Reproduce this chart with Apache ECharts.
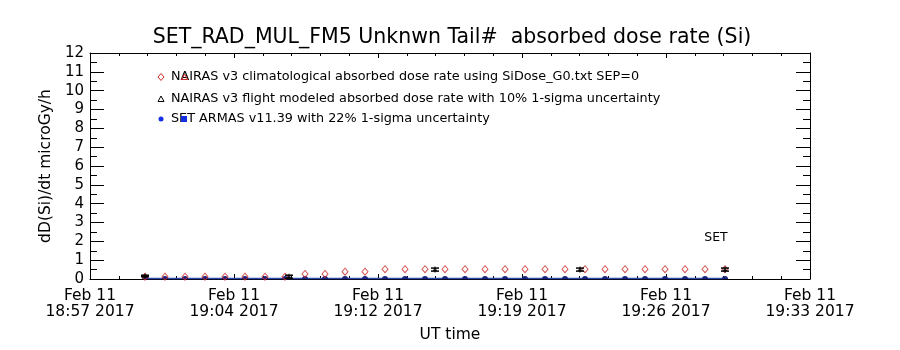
<!DOCTYPE html>
<html>
<head>
<meta charset="utf-8">
<script src="https://cdn.jsdelivr.net/npm/echarts@6/dist/echarts.min.js"></script>
<style>
  html, body { margin: 0; padding: 0; background: #ffffff; }
  #chart { width: 900px; height: 350px; }
</style>
</head>
<body>
<div id="chart"></div>
<script>
// ---- data -------------------------------------------------------------
// x axis runs from 18:57:15 UT for 36 minutes, major ticks every 7.2 min
const axisStart = '18:57:15';
const axisSpanMin = 36;
const xTickStep = 7.2;
const xTickLabels = [
  'Feb 11\n18:57 2017', 'Feb 11\n19:04 2017', 'Feb 11\n19:12 2017',
  'Feb 11\n19:19 2017', 'Feb 11\n19:26 2017', 'Feb 11\n19:33 2017'
];
const yTickLabels = ['0', '1', '2', '3', '4', '5', '6', '7', '8', '9', '10', '11', '12'];

// one-minute samples
const sampleTimes = [
  '19:00', '19:01', '19:02', '19:03', '19:04', '19:05', '19:06', '19:07', '19:08', '19:09',
  '19:10', '19:11', '19:12', '19:13', '19:14', '19:15', '19:16', '19:17', '19:18', '19:19',
  '19:20', '19:21', '19:22', '19:23', '19:24', '19:25', '19:26', '19:27', '19:28', '19:29'
];
// NAIRAS v3 climatological dose rate (microGy/h)
const climDose = [
  0.12, 0.12, 0.12, 0.12, 0.12, 0.12, 0.12, 0.12, 0.27, 0.27,
  0.39, 0.39, 0.52, 0.52, 0.52, 0.52, 0.52, 0.52, 0.52, 0.52,
  0.52, 0.52, 0.52, 0.52, 0.52, 0.52, 0.52, 0.52, 0.52, 0.52
];
// SET ARMAS v11.39 measured dose rate (microGy/h)
const armasDose = [
  0.03, 0.03, 0.03, 0.03, 0.03, 0.03, 0.03, 0.03, 0.03, 0.03,
  0.03, 0.03, 0.03, 0.03, 0.03, 0.03, 0.03, 0.03, 0.03, 0.03,
  0.03, 0.03, 0.03, 0.03, 0.03, 0.03, 0.03, 0.03, 0.03, 0.03
];
// NAIRAS v3 flight modeled dose rate with uncertainty
const flightTimes = ['19:00:00', '19:07:12', '19:14:30', '19:21:45', '19:29:00'];
const flightDose = [0.16, 0.12, 0.50, 0.50, 0.50];
const flightErr = [0.04, 0.08, 0.08, 0.08, 0.08];

const legendTexts = [
  'NAIRAS v3 climatological absorbed dose rate using SiDose_G0.txt SEP=0',
  'NAIRAS v3 flight modeled absorbed dose rate with 10% 1-sigma uncertainty',
  'SET ARMAS v11.39 with 22% 1-sigma uncertainty'
];

// ---- helpers ------------------------------------------------------------
function toSec(t) {
  const p = t.split(':').map(Number);
  return p[0] * 3600 + p[1] * 60 + (p[2] || 0);
}
// minutes elapsed since the start of the time axis
function minutesFromStart(t) {
  return (toSec(t) - toSec(axisStart)) / 60;
}

const FONT = '"DejaVu Sans", sans-serif';
const climData = sampleTimes.map((t, i) => [minutesFromStart(t), climDose[i]]);
const armasData = sampleTimes.map((t, i) => [minutesFromStart(t), armasDose[i]]);
const flightData = flightTimes.map((t, i) => [minutesFromStart(t), flightDose[i], flightErr[i]]);

const chart = echarts.init(document.getElementById('chart'), null, { renderer: 'canvas' });

const tickCommon = {
  axisLine: { show: true, onZero: false, lineStyle: { color: '#000', width: 1 } },
  splitLine: { show: false }
};

function xAxisDef(pos, showLabels) {
  return Object.assign({
    type: 'value',
    position: pos,
    min: 0,
    max: axisSpanMin,
    interval: xTickStep,
    axisTick: { show: true, inside: true, length: 5, lineStyle: { color: '#000' } },
    minorTick: { show: true, splitNumber: 5, length: 3, lineStyle: { color: '#000' } },
    axisLabel: showLabels ? {
      show: true,
      margin: 9,
      color: '#000',
      fontFamily: FONT,
      fontSize: 15.5,
      lineHeight: 16,
      formatter: v => xTickLabels[Math.round(v / xTickStep)] || ''
    } : { show: false }
  }, tickCommon);
}

function yAxisDef(pos, showLabels) {
  return Object.assign({
    type: 'value',
    position: pos,
    min: 0,
    max: 12,
    interval: 1,
    axisTick: { show: true, inside: true, length: 14, lineStyle: { color: '#000' } },
    minorTick: { show: true, splitNumber: 2, length: 7, lineStyle: { color: '#000' } },
    axisLabel: showLabels ? {
      show: true,
      margin: 6,
      color: '#000',
      fontFamily: FONT,
      fontSize: 15,
      formatter: v => yTickLabels[Math.round(v)] || ''
    } : { show: false }
  }, tickCommon);
}

const xAxisBottom = xAxisDef('bottom', true);
xAxisBottom.name = 'UT time';
xAxisBottom.nameLocation = 'middle';
xAxisBottom.nameGap = 48;
xAxisBottom.nameTextStyle = { color: '#000', fontFamily: FONT, fontSize: 15.5 };

const yAxisLeft = yAxisDef('left', true);
yAxisLeft.name = 'dD(Si)/dt microGy/h';
yAxisLeft.nameLocation = 'middle';
yAxisLeft.nameGap = 34;
yAxisLeft.nameRotate = 90;
yAxisLeft.nameTextStyle = { color: '#000', fontFamily: FONT, fontSize: 15.5 };

// legend drawn as plain graphics
const LX = 161, LT = 171, rows = [77, 99, 119];
const LFONT = '12.8px ' + FONT;
const legendGraphics = [
  { type: 'polygon', shape: { points: [[LX, rows[0] - 3.5], [LX + 3, rows[0]], [LX, rows[0] + 3.5], [LX - 3, rows[0]]] },
    style: { fill: 'none', stroke: '#cc2a2a', lineWidth: 1 } },
  { type: 'text', x: LT, y: rows[0], style: { text: legendTexts[0], font: LFONT, fill: '#000', align: 'left', verticalAlign: 'middle' } },
  { type: 'polygon', shape: { points: [[LT + 13.5, rows[0] - 3], [LT + 16.5, rows[0] + 2.5], [LT + 10.5, rows[0] + 2.5]] },
    style: { fill: 'none', stroke: '#cc2a2a', lineWidth: 1 } },
  { type: 'polygon', shape: { points: [[LX, rows[1] - 3], [LX + 3, rows[1] + 2.5], [LX - 3, rows[1] + 2.5]] },
    style: { fill: 'none', stroke: '#000', lineWidth: 1 } },
  { type: 'text', x: LT, y: rows[1], style: { text: legendTexts[1], font: LFONT, fill: '#000', align: 'left', verticalAlign: 'middle' } },
  { type: 'circle', shape: { cx: LX, cy: rows[2], r: 2.5 }, style: { fill: '#1530e0' } },
  { type: 'text', x: LT, y: rows[2], style: { text: legendTexts[2], font: LFONT, fill: '#000', align: 'left', verticalAlign: 'middle' } },
  { type: 'rect', shape: { x: LT + 10, y: rows[2] - 3, width: 6, height: 6 }, style: { fill: '#1530e0' } }
];

const option = {
  animation: false,
  backgroundColor: '#ffffff',
  grid: { left: 90, right: 90, top: 53, bottom: 71, containLabel: false },
  xAxis: [xAxisBottom, xAxisDef('top', false)],
  yAxis: [yAxisLeft, yAxisDef('right', false)],
  graphic: [
    { type: 'text', x: 452, y: 38,
      style: { text: 'SET_RAD_MUL_FM5 Unknwn Tail#  absorbed dose rate (Si)', font: '20.5px ' + FONT,
               fill: '#000', align: 'center', verticalAlign: 'middle' } },
    { type: 'text', x: 716, y: 238,
      style: { text: 'SET', font: '12.5px ' + FONT, fill: '#000', align: 'center', verticalAlign: 'middle' } }
  ].concat(legendGraphics),
  series: [
    {
      name: 'ARMAS',
      type: 'line',
      data: armasData,
      symbol: 'path://M0,10 A10,10 0 0 1 20,10 Z',
      symbolSize: [6, 3],
      symbolOffset: [0, -1],
      showSymbol: true,
      lineStyle: { color: '#2a48b0', width: 1.5 },
      itemStyle: { color: '#1a237e' },
      z: 3
    },
    {
      name: 'Climatological',
      type: 'scatter',
      data: climData,
      symbol: 'diamond',
      symbolSize: [6, 7],
      itemStyle: { color: 'rgba(0,0,0,0)', borderColor: '#cc2a2a', borderWidth: 1 },
      z: 4
    },
    {
      name: 'Flight modeled',
      type: 'custom',
      data: flightData,
      z: 5,
      renderItem: function (params, api) {
        const x = api.value(0), v = api.value(1), e = api.value(2);
        const top = api.coord([x, v + e]);
        const bot = api.coord([x, v - e]);
        const mid = api.coord([x, v]);
        const hw = 4;
        const stroke = { stroke: '#000', lineWidth: 1.5 };
        return {
          type: 'group',
          children: [
            { type: 'line', shape: { x1: top[0], y1: top[1] - 1.5, x2: bot[0], y2: bot[1] + 1.5 }, style: { stroke: '#000', lineWidth: 1 } },
            { type: 'line', shape: { x1: top[0] - hw, y1: top[1], x2: top[0] + hw, y2: top[1] }, style: stroke },
            { type: 'line', shape: { x1: bot[0] - hw, y1: bot[1], x2: bot[0] + hw, y2: bot[1] }, style: stroke },
            { type: 'polygon', shape: { points: [[mid[0], mid[1] - 1.5], [mid[0] + 1.5, mid[1] + 1], [mid[0] - 1.5, mid[1] + 1]] },
              style: { fill: 'none', stroke: '#000', lineWidth: 1 } }
          ]
        };
      }
    }
  ]
};

chart.setOption(option);
</script>
</body>
</html>
